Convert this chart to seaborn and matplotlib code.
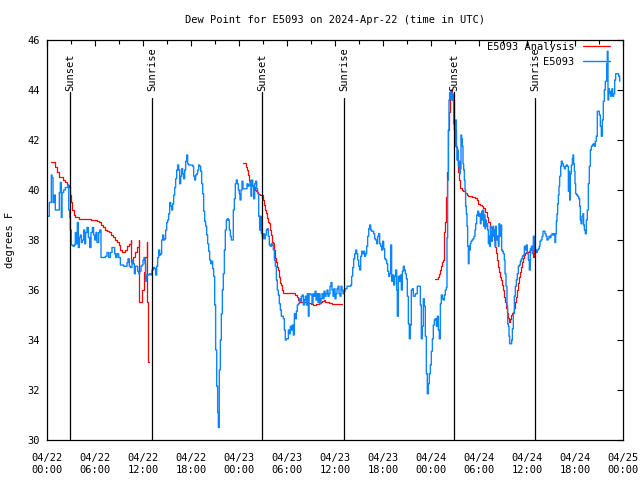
import numpy as np
import pandas as pd
import matplotlib
matplotlib.use("Agg")
import matplotlib.pyplot as plt
from matplotlib.lines import Line2D
import seaborn as sns

# --- data (hours since 2024-04-22 00:00 UTC, degrees F) ---
TITLE = "Dew Point for E5093 on 2024-Apr-22 (time in UTC)"
STATION_LABEL = "E5093"
ANALYSIS_LABEL = "E5093 Analysis"

obs_hours = [
    0.125, 0.29, 0.54, 0.625, 0.75, 0.92, 1.04, 1.25, 1.42, 1.54, 1.67, 1.79, 1.875, 2.08, 2.29, 2.5,
    2.625, 2.71, 2.83, 2.92, 3.04, 3.25, 3.42, 3.54, 3.67, 3.79, 3.92, 4.04, 4.17, 4.29, 4.42, 4.58,
    4.71, 4.83, 5.0, 5.17, 5.33, 5.5, 5.67, 5.83, 5.96, 6.125, 6.25, 6.46, 6.58, 6.75, 7.0, 7.29,
    7.5, 7.71, 7.92, 8.125, 8.33, 8.46, 8.58, 8.75, 8.96, 9.17, 9.58, 9.79, 10.0, 10.125, 10.29, 10.42,
    10.625, 10.75, 10.92, 11.04, 11.17, 11.33, 11.46, 11.58, 11.75, 11.875, 12.0, 12.125, 12.25, 12.33,
    12.46, 12.625, 12.79, 13.0, 13.125,
    13.29, 13.46, 13.58, 13.71, 13.83, 13.96, 14.08, 14.21, 14.33, 14.46, 14.58, 14.71, 14.83, 14.96,
    15.08, 15.21, 15.33, 15.46, 15.58, 15.71, 15.83, 15.96, 16.08, 16.21, 16.33, 16.46, 16.58, 16.71,
    16.83, 16.96, 17.08, 17.21, 17.33, 17.46, 17.58, 17.71, 17.875, 18.08, 18.21, 18.33, 18.46, 18.58,
    18.71, 18.83, 18.96, 19.08, 19.21, 19.33, 19.46, 19.58, 19.71, 19.83, 19.96, 20.08, 20.21, 20.33,
    20.46, 20.58, 20.71, 20.83, 20.96, 21.08, 21.21, 21.33, 21.42, 21.54, 21.67, 21.79, 21.92, 22.04,
    22.17, 22.29, 22.42, 22.54, 22.67, 22.79, 22.92, 23.04, 23.17, 23.29, 23.42, 23.54, 23.67, 23.79,
    23.92, 24.04, 24.125, 24.25, 24.375, 24.5, 24.75,
    24.875, 25.0, 25.125, 25.25, 25.375, 25.5, 25.58, 25.71, 25.83, 25.96, 26.08, 26.21, 26.33, 26.46,
    26.58, 26.67, 26.79, 26.92, 27.04, 27.17, 27.29, 27.42, 27.54, 27.67, 27.79, 27.92, 28.04, 28.17,
    28.29, 28.42, 28.54, 28.67, 28.79, 28.92, 29.04, 29.17, 29.29, 29.54, 29.67, 29.79, 29.92, 30.04,
    30.17, 30.29, 30.42, 30.54, 30.67, 30.79, 30.92, 31.04, 31.17, 31.29, 31.42, 31.54, 31.67, 31.79,
    31.92, 32.04, 32.17, 32.29, 32.42, 32.54, 32.67, 32.75, 32.875, 33.0, 33.125, 33.25, 33.375, 33.5,
    33.625, 33.75, 33.875, 34.0, 34.125, 34.25, 34.375, 34.5, 34.625, 34.75, 34.875, 35.0, 35.125, 35.25,
    35.375, 35.5, 35.625, 35.75, 35.875, 36.0, 36.125, 36.25, 36.375, 36.5, 36.625, 36.75, 36.875, 37.0,
    37.125, 37.25, 37.5, 37.75,
    37.96, 38.08, 38.21, 38.33, 38.46, 38.58, 38.71, 38.83, 38.96, 39.08, 39.21, 39.33, 39.46, 39.58,
    39.71, 39.83, 39.96, 40.08, 40.21, 40.33, 40.46, 40.58, 40.71, 40.83, 40.96, 41.08, 41.21, 41.33,
    41.46, 41.58, 41.71, 41.83, 41.96, 42.08, 42.21, 42.33, 42.46, 42.58, 42.71, 42.83, 42.96, 43.08,
    43.21, 43.33, 43.46, 43.58, 43.71, 43.79, 43.92, 44.04, 44.17, 44.29, 44.42, 44.54, 44.67, 44.79,
    44.92, 45.04, 45.17, 45.29, 45.42, 45.54, 45.67, 45.79, 45.92, 46.04, 46.17, 46.29, 46.54, 46.67,
    46.79, 46.92, 47.04, 47.17, 47.29, 47.42, 47.54, 47.67, 47.79, 47.92, 48.04, 48.17, 48.29, 48.42,
    48.54, 48.67, 48.79, 48.92, 49.04, 49.17, 49.29, 49.42, 49.54, 49.67, 49.79, 49.92, 50.0,
    50.08, 50.17, 50.25, 50.33, 50.42, 50.5, 50.58, 50.67, 50.75, 50.83, 50.92, 51.0, 51.08, 51.17,
    51.25, 51.33, 51.42, 51.5, 51.58, 51.67, 51.75, 51.83, 51.92, 52.0, 52.08, 52.17, 52.25, 52.33,
    52.42, 52.5, 52.58, 52.67, 52.75, 52.83, 52.92, 53.0, 53.125, 53.25, 53.375, 53.5, 53.58, 53.71,
    53.83, 53.96, 54.08, 54.17, 54.25, 54.33, 54.42, 54.5, 54.58, 54.67, 54.75, 54.83, 54.92, 55.0,
    55.08, 55.17, 55.25, 55.33, 55.42, 55.5, 55.58, 55.67, 55.75, 55.83, 55.92, 56.0, 56.08, 56.17,
    56.25, 56.33, 56.42, 56.5, 56.58, 56.67, 56.75, 56.83, 56.92, 57.04, 57.17, 57.25, 57.375, 57.5,
    57.58, 57.67, 57.75, 57.83, 57.96, 58.08, 58.17, 58.29, 58.42, 58.54, 58.67, 58.79, 58.92, 59.04,
    59.17, 59.29, 59.42, 59.54, 59.67, 59.79, 59.92, 60.04, 60.17, 60.29, 60.42, 60.54, 60.67, 60.79,
    60.92, 61.04, 61.17, 61.29, 61.42, 61.54,
    61.625, 61.75, 61.875, 62.0, 62.125, 62.25, 62.375, 62.5, 62.625, 62.75, 62.875, 63.0, 63.125, 63.25,
    63.375, 63.5, 63.58, 63.67, 63.75, 63.83, 63.92, 64.0, 64.08, 64.21, 64.29, 64.42, 64.54, 64.67,
    64.79, 64.92, 65.04, 65.17, 65.25, 65.33, 65.42, 65.54, 65.67, 65.75, 65.83, 65.92, 66.0, 66.08,
    66.21, 66.33, 66.46, 66.58, 66.67, 66.75, 66.875, 67.0, 67.08, 67.17, 67.29, 67.42, 67.54, 67.67,
    67.79, 67.92, 68.04, 68.17, 68.29, 68.42, 68.54, 68.67, 68.79, 68.92, 69.04, 69.17, 69.29, 69.42,
    69.54, 69.67, 69.79, 69.875, 69.96, 70.04, 70.125, 70.21, 70.29, 70.375, 70.46, 70.54, 70.625, 70.71,
    70.83, 70.96, 71.08, 71.21, 71.33, 71.46, 71.58,
]
obs_dewpt = [
    38.95, 39.5, 40.6, 40.5, 39.5, 39.8, 39.2, 39.2, 39.2, 39.9, 40.3, 38.9, 39.9, 40.0, 40.1, 40.1,
    40.2, 39.2, 38.9, 38.4, 37.8, 37.75, 37.8, 38.3, 37.85, 38.7, 37.7, 38.1, 38.2, 37.9, 38.0, 38.4,
    37.85, 38.3, 38.5, 38.1, 37.7, 38.3, 38.5, 38.2, 38.0, 38.3, 37.9, 38.3, 38.4, 37.3, 37.3, 37.35,
    37.5, 37.3, 37.5, 37.7, 37.7, 37.45, 37.3, 37.45, 37.3, 37.0, 36.95, 36.95, 37.1, 37.25, 36.95, 36.9,
    37.2, 37.05, 36.65, 36.95, 36.95, 36.75, 36.65, 36.75, 36.95, 37.0, 37.2, 37.3, 37.05, 36.35,
    36.6, 36.6, 36.65, 36.6, 36.8,
    36.9, 36.85, 36.6, 36.95, 37.3, 37.6, 37.4, 37.45, 38.0, 38.2, 38.0, 38.05, 38.4, 38.7,
    38.8, 39.05, 39.5, 39.35, 39.2, 39.45, 39.8, 40.1, 40.45, 40.8, 41.0, 40.8, 40.25, 40.55,
    40.85, 40.65, 40.45, 40.8, 41.15, 41.4, 41.05, 41.0, 41.0, 41.0, 40.95, 40.55, 40.4, 40.6,
    40.65, 40.8, 41.0, 40.95, 40.75, 40.25, 39.85, 39.15, 38.75, 38.55, 38.2, 37.85, 37.55, 37.2,
    37.05, 37.15, 36.85, 36.55, 35.4, 33.6, 32.15, 31.1, 30.5, 32.8, 34.0, 35.05, 36.0, 36.65,
    37.6, 38.4, 38.8, 38.85, 38.8, 38.4, 38.15, 38.0, 38.0, 39.2, 39.65, 40.25, 40.4, 40.25,
    40.0, 39.85, 39.6, 40.0, 40.35, 40.05, 40.05,
    40.05, 40.25, 40.15, 40.2, 40.35, 39.75, 40.4, 40.15, 39.65, 40.25, 40.35, 40.05, 39.85, 38.95,
    38.4, 38.95, 38.25, 38.05, 38.25, 38.05, 38.2, 38.4, 38.45, 38.15, 37.8, 37.75, 37.85, 37.8,
    37.6, 37.2, 36.95, 36.4, 36.0, 35.8, 35.45, 35.2, 34.95, 34.85, 34.4, 34.0, 34.05, 34.05,
    34.4, 34.25, 34.55, 34.4, 34.6, 34.2, 35.05, 34.85, 35.15, 35.4, 35.45, 35.65, 35.55, 35.75,
    35.8, 35.4, 35.6, 35.75, 35.4, 35.85, 34.95, 35.85, 35.85, 35.8, 35.45, 35.85, 35.75, 35.95,
    35.6, 35.85, 35.5, 35.85, 35.45, 35.65, 35.85, 35.65, 35.95, 35.75, 35.85, 36.0, 35.75, 35.85,
    36.15, 36.3, 36.0, 35.75, 36.05, 35.65, 35.85, 36.05, 36.15, 35.85, 35.75, 36.15, 36.0, 35.85,
    35.95, 36.05, 36.15, 36.15,
    36.2, 36.55, 36.9, 37.25, 37.45, 37.6, 37.45, 37.2, 36.95, 36.8, 37.35, 37.55, 37.45, 37.55,
    37.35, 37.45, 37.75, 38.15, 38.45, 38.6, 38.4, 38.35, 38.35, 38.25, 38.05, 38.0, 37.85, 38.15,
    38.25, 37.85, 37.75, 37.6, 37.95, 37.65, 37.25, 37.2, 37.05, 36.75, 36.55, 36.65, 37.8, 36.35,
    36.6, 36.2, 36.55, 36.8, 36.0, 34.95, 36.55, 36.35, 36.6, 36.0, 36.75, 36.95, 36.8, 36.65,
    36.45, 35.75, 34.65, 34.05, 34.6, 36.0, 36.05, 35.75, 35.75, 35.85, 35.85, 36.15, 36.15, 35.4,
    34.05, 34.55, 35.65, 35.35, 34.15, 32.65, 31.85, 32.25, 32.65, 33.0, 33.55, 34.05, 34.6, 34.8,
    34.85, 34.55, 34.95, 34.4, 34.05, 35.45, 35.8, 35.65, 35.6, 35.8, 36.0, 36.1, 38.1,
    40.4, 42.4, 43.6, 43.9, 43.65, 44.0, 43.6, 43.85, 43.8, 42.65, 42.4, 41.75, 42.8, 41.75,
    41.2, 41.6, 40.95, 41.15, 40.65, 40.85, 42.2, 42.05, 41.75, 41.05, 40.8, 40.4, 40.0, 39.35,
    39.05, 38.55, 37.75, 37.05, 37.75, 37.6, 37.85, 37.95, 38.0, 38.05, 38.15, 38.4, 38.65, 39.0,
    39.15, 38.95, 39.05, 38.65, 39.0, 39.15, 38.8, 39.2, 38.55, 39.0, 38.45, 38.8, 38.55, 38.65,
    38.4, 37.85, 38.15, 37.75, 38.55, 38.15, 37.95, 38.35, 38.55, 38.15, 38.4, 37.75, 38.55, 38.15,
    38.0, 38.15, 37.75, 38.65, 38.4, 38.15, 38.6, 37.6, 37.55, 37.45, 37.2, 36.65, 36.15, 35.35,
    34.65, 34.55, 34.15, 33.85, 33.85, 34.0, 34.45, 35.05, 35.75, 36.15, 36.4, 36.65, 36.95, 37.0,
    37.15, 37.25, 37.35, 37.4, 37.75, 37.6, 37.8, 37.45, 37.2, 36.8, 37.65, 37.75, 37.45, 38.15,
    37.65, 37.6, 37.5, 37.6, 37.65, 37.75,
    37.95, 38.0, 38.15, 38.35, 38.35, 38.25, 38.15, 38.0, 38.05, 38.15, 38.1, 38.2, 38.25, 38.2,
    38.25, 37.9, 38.25, 38.75, 39.05, 39.45, 39.8, 40.15, 40.55, 40.95, 41.15, 41.05, 40.95, 40.85,
    40.95, 41.0, 40.95, 39.95, 40.75, 39.6, 40.65, 41.0, 41.25, 41.4, 41.05, 40.75, 40.25, 39.85,
    39.8, 39.75, 39.65, 39.35, 38.8, 38.65, 38.95, 39.05, 38.6, 38.4, 38.25, 38.8, 39.2, 40.25,
    40.95, 41.6, 41.75, 41.8, 41.85, 41.75, 41.95, 42.15, 43.15, 43.15, 43.0, 42.55, 42.15, 42.8,
    43.55, 44.0, 44.35, 44.35, 45.05, 45.55, 43.6, 44.05, 43.95, 43.85, 43.75, 43.95, 44.05, 43.75,
    43.85, 44.4, 44.65, 44.65, 44.65, 44.55, 44.35,
]

# analysis series: three separate evening pieces
ana1_hours = [
    0.5, 0.83, 1.0, 1.25, 1.5, 1.75, 2.0, 2.25, 2.5, 2.75, 2.92, 3.04, 3.17, 3.33, 3.5, 4.0, 4.5, 5.0,
    5.5, 6.0, 6.25, 6.5, 6.75, 7.0, 7.25, 7.5, 7.75, 8.0, 8.25, 8.5, 8.75, 9.0, 9.17, 9.4, 9.6, 9.8,
    10.0, 10.25, 10.45, 10.55, 10.75, 11.0, 11.25, 11.45, 11.55, 11.75, 11.9, 12.1, 12.3, 12.45, 12.55,
    12.62, 12.8,
]
ana1_dewpt = [
    41.1, 41.1, 40.9, 40.7, 40.5, 40.5, 40.4, 40.3, 40.2, 40.1, 39.8, 39.5, 39.2, 39.0, 38.9, 38.85,
    38.83, 38.83, 38.8, 38.8, 38.75, 38.7, 38.6, 38.5, 38.4, 38.35, 38.3, 38.2, 38.1, 38.0, 37.9, 37.8,
    37.6, 37.5, 37.5, 37.6, 37.75, 37.85, 38.0, 37.1, 37.3, 37.5, 37.7, 38.0, 35.5, 35.5, 36.0, 36.7,
    37.3, 37.9, 35.5, 33.1, 33.1,
]
ana2_hours = [
    24.54, 24.75, 24.875, 25.0, 25.125, 25.25, 25.375, 25.5, 25.625, 25.75, 25.875, 26.0, 26.125, 26.25,
    26.375, 26.6, 26.96, 27.08, 27.21, 27.33, 27.46, 27.58, 27.71, 27.83, 27.96, 28.08, 28.21, 28.33,
    28.46, 28.58, 28.71, 28.83, 28.96, 29.08, 29.21, 29.33, 29.46, 30.0, 30.5, 31.0, 31.25, 31.42,
    31.6, 32.0, 32.5, 33.0, 33.3, 33.6, 34.0, 34.2, 34.4, 34.6, 34.75, 35.0, 35.2, 35.6, 36.0, 36.875,
]
ana2_dewpt = [
    41.07, 41.07, 40.9, 40.8, 40.6, 40.4, 40.27, 40.2, 40.2, 40.15, 40.1, 40.0, 39.95, 39.9, 39.85,
    39.8, 39.6, 39.4, 39.2, 39.07, 38.87, 38.73, 38.67, 38.4, 38.2, 37.9, 37.87, 37.6, 37.27, 37.13,
    36.93, 36.8, 36.53, 36.27, 36.2, 36.0, 35.87, 35.87, 35.87, 35.8, 35.73, 35.6, 35.53, 35.5, 35.47,
    35.43, 35.4, 35.43, 35.47, 35.53, 35.57, 35.6, 35.53, 35.53, 35.47, 35.43, 35.43, 35.43,
]
ana3_hours = [
    48.5, 48.7, 48.83, 48.96, 49.08, 49.2, 49.33, 49.46, 49.58, 49.67, 49.79, 49.875, 50.0, 50.08,
    50.17, 50.25, 50.33, 50.42, 50.5, 50.58, 50.67, 50.75, 50.83, 50.92, 51.0, 51.08, 51.17, 51.25,
    51.33, 51.42, 51.5, 51.58, 51.67, 51.83, 52.04, 52.25, 52.46, 52.67, 53.08, 53.5, 53.71, 53.92,
    54.125, 54.33, 54.54, 54.75, 54.96, 55.17, 55.375, 55.58, 55.71, 55.83, 55.96, 56.08, 56.21, 56.33,
    56.46, 56.58, 56.71, 56.83, 56.96, 57.08, 57.21, 57.33, 57.46, 57.58, 57.71, 57.83, 57.96, 58.08,
    58.21, 58.33, 58.46, 58.58, 58.71, 58.83, 58.96, 59.08, 59.21, 59.33, 59.46, 59.58, 59.71, 59.83,
    60.08, 60.21, 60.33, 60.46, 60.58, 60.71, 60.83,
]
ana3_dewpt = [
    36.43, 36.43, 36.5, 36.65, 36.8, 36.95, 37.1, 37.2, 37.7, 38.3, 38.7, 39.7, 40.7, 41.7, 42.4, 43.1,
    43.6, 43.9, 44.0, 43.7, 43.6, 43.6, 43.1, 42.7, 42.4, 42.1, 41.7, 41.2, 40.9, 40.7, 40.4, 40.2,
    40.07, 40.0, 39.97, 39.87, 39.8, 39.76, 39.73, 39.67, 39.6, 39.44, 39.4, 39.36, 39.27, 39.13, 38.93,
    38.73, 38.53, 38.4, 38.27, 38.0, 37.73, 37.47, 37.2, 36.93, 36.73, 36.53, 36.4, 36.2, 36.0, 35.73,
    35.53, 35.27, 35.07, 34.87, 34.73, 34.83, 35.0, 35.07, 35.13, 35.27, 35.53, 35.73, 36.0, 36.27,
    36.53, 36.73, 36.93, 37.13, 37.27, 37.4, 37.47, 37.53, 37.53, 37.57, 37.6, 37.67, 37.67, 37.33,
    37.67,
]

sunset_hours = [2.9, 26.92, 50.93]
sunrise_hours = [13.15, 37.1, 61.0]

xtick_hours = list(range(0, 73, 6))
xtick_labels = ["04/22\n00:00", "04/22\n06:00", "04/22\n12:00", "04/22\n18:00",
                "04/23\n00:00", "04/23\n06:00", "04/23\n12:00", "04/23\n18:00",
                "04/24\n00:00", "04/24\n06:00", "04/24\n12:00", "04/24\n18:00",
                "04/25\n00:00"]
ytick_values = list(range(30, 47, 2))

RED = "#ff0000"
BLUE = "#0a84ff"

obs = pd.DataFrame({"hours": obs_hours, "dewpt": obs_dewpt})
ana = pd.concat([
    pd.DataFrame({"hours": h, "dewpt": d, "seg": i})
    for i, (h, d) in enumerate([(ana1_hours, ana1_dewpt), (ana2_hours, ana2_dewpt),
                                (ana3_hours, ana3_dewpt)])
], ignore_index=True)

# --- style ---
sns.set_style("white")
plt.rcParams["font.family"] = ["DejaVu Sans Mono"]
plt.rcParams.update({"font.size": 7.5, "text.color": "black", "axes.labelcolor": "black",
                     "xtick.color": "black", "ytick.color": "black"})

fig = plt.figure(figsize=(6.4, 4.8), dpi=100)
ax = fig.add_axes([47 / 640, 40 / 480, 576 / 640, 400 / 480])

sns.lineplot(data=ana, x="hours", y="dewpt", units="seg", estimator=None,
             color=RED, lw=0.9, drawstyle="steps-post", ax=ax)
sns.lineplot(data=obs, x="hours", y="dewpt", color=BLUE, lw=1.0,
             drawstyle="steps-post", ax=ax)

# sunset / sunrise markers
for t in sunset_hours:
    ax.axvline(t, ymin=0, ymax=0.87, color="black", lw=0.9)
    ax.text(t, 0.872, "Sunset", rotation=90, ha="center", va="bottom",
            transform=ax.get_xaxis_transform())
for t in sunrise_hours:
    ax.axvline(t, ymin=0, ymax=0.855, color="black", lw=0.9)
    ax.text(t, 0.872, "Sunrise", rotation=90, ha="center", va="bottom",
            transform=ax.get_xaxis_transform())

ax.set_xlim(0, 72)
ax.set_ylim(30, 46)
ax.set_xticks(xtick_hours)
ax.set_xticklabels(xtick_labels, linespacing=1.3)
ax.set_xticks(np.arange(3, 72, 6), minor=True)
ax.set_yticks(ytick_values)
ax.set_xlabel("")
ax.set_ylabel("")
ax.tick_params(which="both", direction="in", top=True, right=True, width=0.8)
ax.tick_params(which="major", length=4, pad=5)
ax.tick_params(axis="x", which="major", pad=9)
ax.tick_params(which="minor", length=3)
for sp in ax.spines.values():
    sp.set_color("black")
    sp.set_linewidth(0.9)

handles = [Line2D([], [], color=RED, lw=0.9), Line2D([], [], color=BLUE, lw=1.0)]
ax.legend(handles, [ANALYSIS_LABEL, STATION_LABEL], loc="upper right",
          bbox_to_anchor=(0.977, 0.995), frameon=False, markerfirst=False,
          handlelength=2.6, handletextpad=0.8, labelspacing=0.45,
          borderaxespad=0, borderpad=0)

fig.text(335 / 640, 1 - 20 / 480, TITLE, ha="center", va="center")
fig.text(10 / 640, 0.5, "degrees F", rotation=90, ha="center", va="center")

fig.savefig("out.png", dpi=100)
